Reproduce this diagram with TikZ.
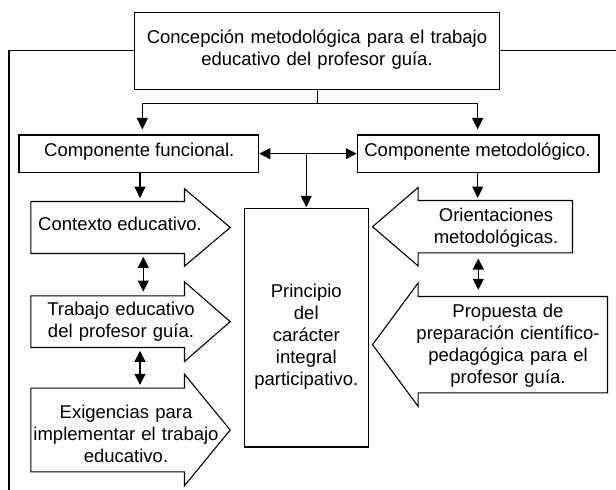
\documentclass[tikz,border=0pt]{standalone}
\usepackage{fontspec}
\setmainfont{Liberation Sans}
\usetikzlibrary{arrows.meta}
\tikzset{
  ln/.style={line width=1.1pt},
  box/.style={draw, line width=1.1pt, rectangle, inner sep=0pt},
  shaft/.style={rectangle, inner sep=0pt},
  txt/.style={anchor=base, inner sep=0pt, font=\fontsize{18.5pt}{22pt}\selectfont},
  mtxt/.style={txt, text width=380pt, align=center},
  tip/.style={ln, -{Triangle[width=11pt,length=11.5pt]}},
  dtip/.style={ln, {Triangle[width=11pt,length=11pt]}-{Triangle[width=11pt,length=11pt]}},
}
\newcommand\blockR[3]{\draw[ln] (#1.north west) -- (#1.north east) -- ([yshift=#2]#1.north east) -- ([xshift=#3]#1.east) -- ([yshift=-#2]#1.south east) -- (#1.south east) -- (#1.south west) -- cycle;}
\newcommand\blockL[3]{\draw[ln] (#1.north east) -- (#1.north west) -- ([yshift=#2]#1.north west) -- ([xshift=-#3]#1.west) -- ([yshift=-#2]#1.south west) -- (#1.south west) -- (#1.south east) -- cycle;}
\begin{document}
\begin{tikzpicture}[x=1pt,y=-1pt]
\useasboundingbox (0,0) rectangle (616,490);

% boxes
\node[box, minimum width=365pt, minimum height=77pt] (top) at (317.2,50.8) {};
\node[mtxt] (topT) at (317,43.3) {Concepción metodológica para el trabajo\\educativo del profesor guía.};
\node[box, minimum width=239.7pt, minimum height=37.3pt] (cf) at (138.85,153.65) {};
\node[txt] (cfT) at (139.3,156.7) {Componente funcional.};
\node[box, minimum width=241.7pt, minimum height=37.3pt] (cm) at (478.15,153.65) {};
\node[txt] (cmT) at (477.5,156.7) {Componente metodológico.};
\node[box, minimum width=124pt, minimum height=238.7pt] (pr) at (306.3,327.65) {};
\node[mtxt] (prT) at (306.3,297.3) {Principio\\del\\carácter\\integral\\participativo.};

% block arrows
\node[shaft, minimum width=153.3pt, minimum height=51.6pt] (ctx) at (107.65,227.5) {};
\blockR{ctx}{12.7pt}{45.7pt}
\node[txt] (ctxT) at (120,230.7) {Contexto educativo.};

\node[shaft, minimum width=153.3pt, minimum height=51.3pt] (tra) at (107.65,321.65) {};
\blockR{tra}{14pt}{45.7pt}
\node[mtxt] (traT) at (121,315) {Trabajo educativo\\del profesor guía.};

\node[shaft, minimum width=153.3pt, minimum height=83.4pt] (exi) at (107.65,430) {};
\blockR{exi}{13.8pt}{45.7pt}
\node[mtxt] (exiT) at (126,418.3) {Exigencias para\\implementar el trabajo\\educativo.};

\node[shaft, minimum width=154pt, minimum height=52pt] (ori) at (495.3,226.7) {};
\blockL{ori}{13pt}{45.6pt}
\node[mtxt] (oriT) at (496,221.7) {Orientaciones\\metodológicas.};

\node[shaft, minimum width=189pt, minimum height=96pt] (pro) at (512.8,344.7) {};
\blockL{pro}{13.5pt}{45.6pt}
\node[mtxt] (proT) at (508,317.5) {Propuesta de\\preparación científico-\\pedagógica para el\\profesor guía.};

% connectors
\coordinate (jtop) at (top.south |- 0,103.3);
\coordinate (cfin) at ([xshift=3.5pt]cf.north);
\coordinate (cmin) at ([xshift=-0.5pt]cm.north);
\draw[ln] (top.south) -- (jtop);
\draw[tip, shorten >=5pt] (jtop) -| (cfin);
\draw[tip, shorten >=5pt] (jtop) -| (cmin);
\draw[dtip] (cf.east) -- (cm.west);
\coordinate (jmid) at (pr.north |- cf.east);
\draw[tip, shorten >=0.5pt] (jmid) -- (pr.north);

\coordinate (cfout) at ([xshift=1.15pt]cf.south);
\draw[tip, shorten >=3.4pt] (cfout) -- (cfout |- ctx.north);
\coordinate (cmout) at ([xshift=-0.45pt]cm.south);
\draw[tip, shorten >=2.5pt] (cmout) -- (cmout |- ori.north);

\coordinate (a1) at ([xshift=35.65pt]ctx.south);
\draw[dtip, shorten <=3.4pt, shorten >=4.3pt] (a1) -- (a1 |- tra.north);
\coordinate (a2) at ([xshift=32.35pt]tra.south);
\draw[dtip, shorten <=3.4pt, shorten >=3.3pt] (a2) -- (a2 |- exi.north);
\coordinate (a3) at ([xshift=-17pt]ori.south);
\draw[dtip, shorten <=5.6pt, shorten >=6.7pt] (a3) -- (a3 |- pro.north);

% frame lines
\coordinate (bl) at (9,490);
\coordinate (br) at (616,50.8);
\draw[ln] (top.west) -| (bl);
\draw[ln] (top.east) -- (br);
\end{tikzpicture}
\end{document}
